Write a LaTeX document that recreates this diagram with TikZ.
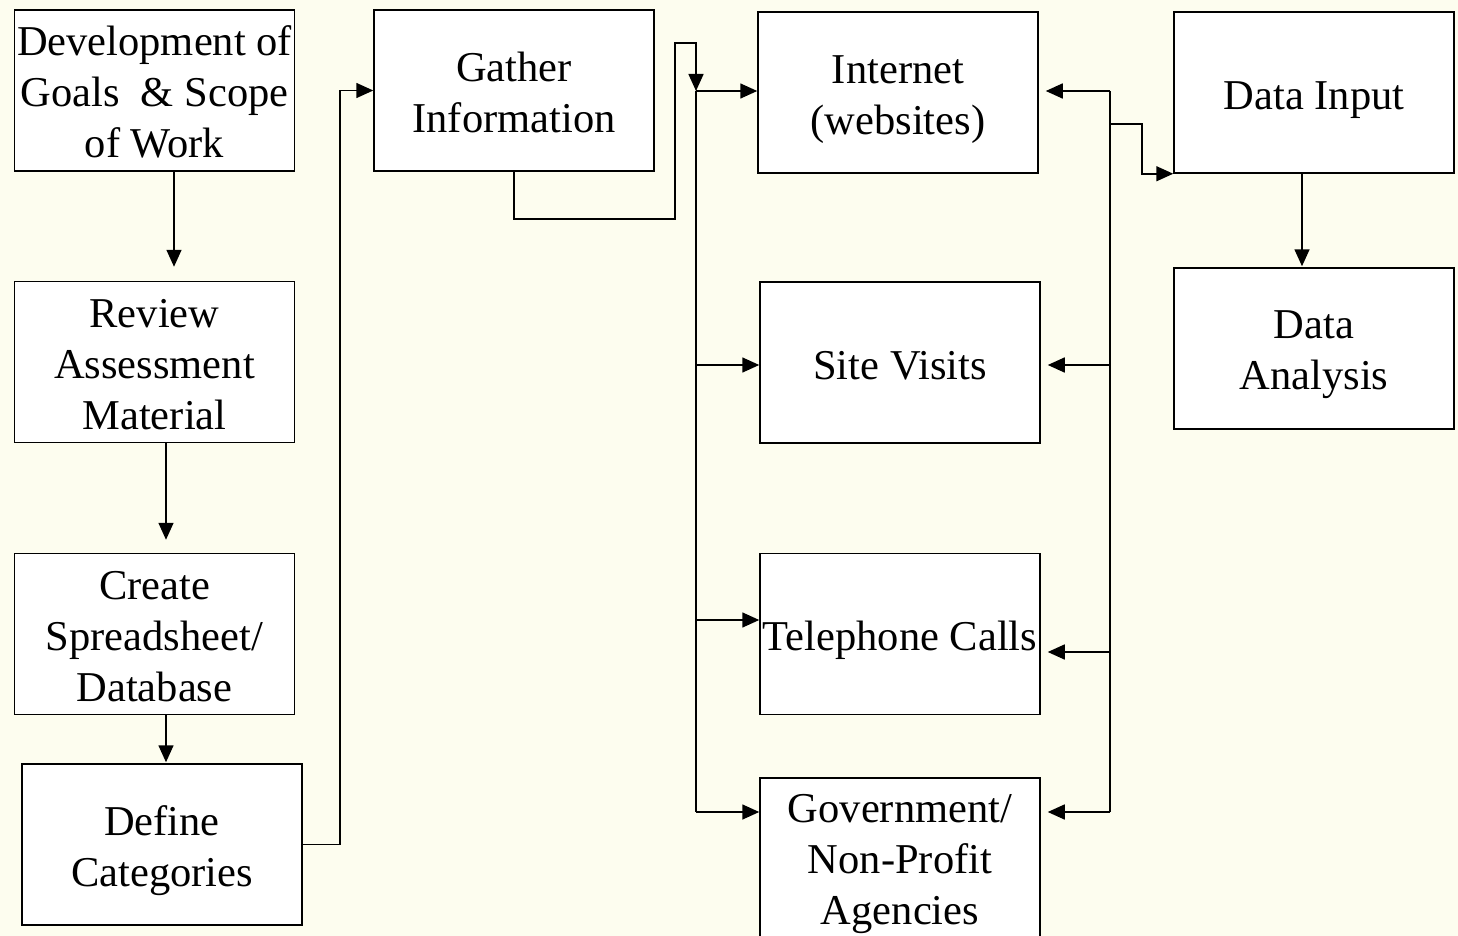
\documentclass[tikz,border=0pt]{standalone}
\usepackage{fontspec}
\setmainfont{Liberation Serif}
\usetikzlibrary{arrows.meta,calc}
\definecolor{bg}{RGB}{253,253,239}
\newcommand\bxt[2]{\raisebox{#1}[\height][\depth]{\begin{tabular}{@{}c@{}}#2\end{tabular}}}
\begin{document}
\begin{tikzpicture}[x=1pt,y=-1pt,
  box/.style={draw,line width=1.5pt,fill=white,minimum width=280pt,minimum height=161pt,
    inner sep=0pt,font=\fontsize{42.5}{51}\selectfont},
  conn/.style={line width=1.6pt},
  arr/.style={conn,-{Triangle[length=17pt,width=15pt]}}]
\fill[bg] (0,0) rectangle (1458,936);
\useasboundingbox (0,0) rectangle (1458,936);
\begin{scope}
\clip (0,0) rectangle (1458,936);
% nodes
\node[box] (dev) at (154.5,90.5) {\bxt{-6pt}{Development of\\Goals\ \ \& Scope\\of Work}};
\node[box] (rev) at (154.5,362) {\bxt{-6.5pt}{Review\\Assessment\\Material}};
\node[box] (cre) at (154.5,634) {\bxt{-6pt}{Create\\Spreadsheet/\\Database}};
\node[box] (def) at (162,844.5) {\bxt{-6pt}{Define\\Categories}};
\node[box] (gat) at (514,90.5) {\bxt{-6pt}{Gather\\Information}};
\node[box] (int) at (898,92.5) {\bxt{-6pt}{Internet\\(websites)}};
\node[box] (sit) at (900,362.5) {\bxt{-7pt}{Site Visits}};
\node[box] (tel) at (900,634) {\bxt{-6pt}{Telephone Calls}};
\node[box,minimum height=164pt] (gov) at (900,860) {\bxt{-3pt}{Government/\\Non-Profit\\Agencies}};
\node[box] (din) at (1314,92.5) {\bxt{-7pt}{Data Input}};
\node[box] (dan) at (1314,348.5) {\bxt{-5pt}{Data\\Analysis}};
% left column
\draw[arr,shorten >=14pt] ($(dev.south)+(19.5,0)$) -- ($(rev.north)+(19.5,0)$);
\draw[arr,shorten >=13pt] ($(rev.south)+(11.5,0)$) -- ($(cre.north)+(11.5,0)$);
\draw[arr,shorten >=1pt] ($(cre.south)+(11.5,0)$) -- ($(def.north)+(4,0)$);
\draw[arr] (def.east) -- ++(37,0) |- (gat.west);
% gather to left bus
\coordinate (jl) at (696,91);
\coordinate (jlb) at (696,812);
\draw[arr] (gat.south) -- ++(0,47) -- ++(161,0) |- (696,43) -- (jl);
\draw[conn] (jl) -- (jlb);
\draw[arr] (jl) -- (jl -| int.west);
\draw[arr] ($(sit.west -| jl)+(0,2.5)$) -- ($(sit.west)+(0,2.5)$);
\draw[arr] ($(tel.west -| jl)+(0,-14)$) -- ($(tel.west)+(0,-14)$);
\draw[arr] (jlb) -- (jlb -| gov.west);
% right bus
\coordinate (jr) at (1110,91);
\coordinate (jrb) at (1110,812);
\draw[conn] (jr) -- (jrb);
\draw[arr,shorten >=7pt] (jr) -- (jr -| int.east);
\draw[arr,shorten >=7pt] ($(sit.east -| jr)+(0,2.5)$) -- ($(sit.east)+(0,2.5)$);
\draw[arr,shorten >=7pt] ($(tel.east -| jr)+(0,18)$) -- ($(tel.east)+(0,18)$);
\draw[arr,shorten >=7pt] (jrb) -- (jrb -| gov.east);
\coordinate (jd) at (1110,124);
\draw[arr] (jd) -- (1142,124) |- (din.south west);
\draw[arr,shorten >=1pt] ($(din.south)+(-12,0)$) -- ($(dan.north)+(-12,0)$);
\end{scope}
\end{tikzpicture}
\end{document}
